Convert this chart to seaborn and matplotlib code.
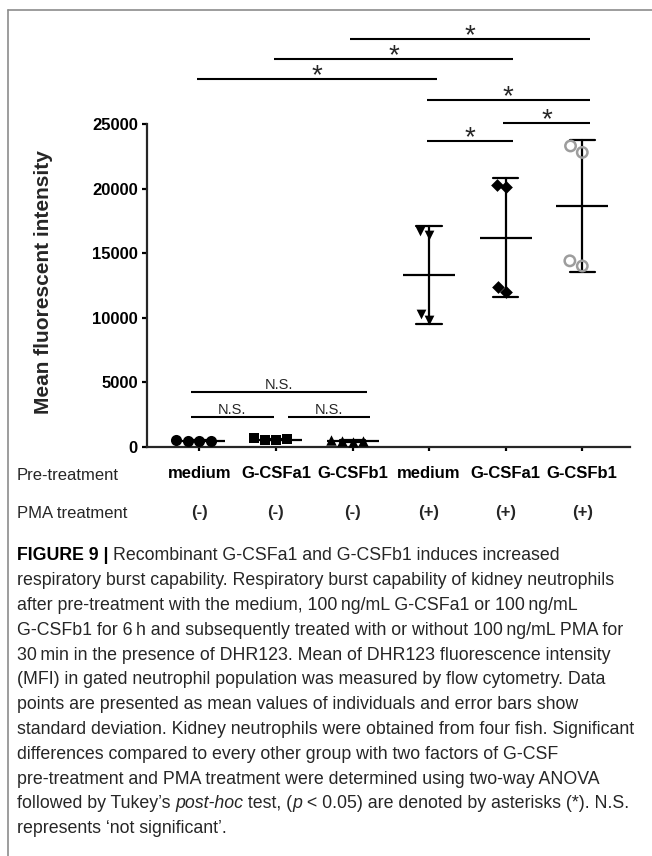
import matplotlib
matplotlib.use("Agg")
import matplotlib.pyplot as plt
from matplotlib import transforms
from matplotlib.lines import Line2D
import numpy as np
import pandas as pd
import seaborn as sns

# ---------------- data ----------------
pre_treatment = ["medium", "G-CSFa1", "G-CSFb1", "medium", "G-CSFa1", "G-CSFb1"]
pma_treatment = ["(-)", "(-)", "(-)", "(+)", "(+)", "(+)"]
group_ids = ["medium (-)", "G-CSFa1 (-)", "G-CSFb1 (-)",
             "medium (+)", "G-CSFa1 (+)", "G-CSFb1 (+)"]

medium_neg = [480, 420, 430, 490]
gcsfa1_neg = [560, 500, 510, 650]
gcsfb1_neg = [430, 400, 410, 520]
medium_pos = [16700, 16400, 9800, 10300]
gcsfa1_pos = [20300, 20100, 12000, 12400]
gcsfb1_pos = [23300, 22800, 14000, 14400]

y_ticks = [0, 5000, 10000, 15000, 20000, 25000]

sig_pairs = [(2, 5), (1, 4), (0, 3), (3, 5), (4, 5), (3, 4)]
sig_heights = [31600, 30000, 28500, 26850, 25050, 23700]
ns_pairs = [(0, 2), (0, 1), (1, 2)]
ns_heights = [4250, 2300, 2300]

caption_lines = [
    [("FIGURE 9 | ", "bold", "normal"), ("Recombinant G-CSFa1 and G-CSFb1 induces increased", "normal", "normal")],
    [("respiratory burst capability. Respiratory burst capability of kidney neutrophils", "normal", "normal")],
    [("after pre-treatment with the medium, 100\u2009ng/mL G-CSFa1 or 100\u2009ng/mL", "normal", "normal")],
    [("G-CSFb1 for 6\u2009h and subsequently treated with or without 100\u2009ng/mL PMA for", "normal", "normal")],
    [("30\u2009min in the presence of DHR123. Mean of DHR123 fluorescence intensity", "normal", "normal")],
    [("(MFI) in gated neutrophil population was measured by flow cytometry. Data", "normal", "normal")],
    [("points are presented as mean values of individuals and error bars show", "normal", "normal")],
    [("standard deviation. Kidney neutrophils were obtained from four fish. Significant", "normal", "normal")],
    [("differences compared to every other group with two factors of G-CSF", "normal", "normal")],
    [("pre-treatment and PMA treatment were determined using two-way ANOVA", "normal", "normal")],
    [("followed by Tukey\u2019s ", "normal", "normal"), ("post-hoc", "normal", "italic"),
     (" test, (", "normal", "normal"), ("p", "normal", "italic"),
     (" < 0.05) are denoted by asterisks (*). N.S.", "normal", "normal")],
    [("represents \u2018not significant\u2019.", "normal", "normal")],
]

# ---------------- style ----------------
sns.set_style("ticks")
plt.rcParams["font.family"] = ["Liberation Sans", "DejaVu Sans"]

W, H = 652, 856
fig = plt.figure(figsize=(W / 100, H / 100), dpi=100)

y0_px, ytop_px = 446.7, 20.0
px_per_unit = (y0_px - 124.0) / 25000.0
ymax = (y0_px - ytop_px) / px_per_unit
ax = fig.add_axes([147 / W, 1 - y0_px / H, (630 - 147) / W, (y0_px - ytop_px) / H])

values = [medium_neg, gcsfa1_neg, gcsfb1_neg, medium_pos, gcsfa1_pos, gcsfb1_pos]
df = pd.DataFrame({
    "group": np.repeat(group_ids, [len(v) for v in values]),
    "value": np.concatenate(values),
})

# mean +/- SD
sns.pointplot(data=df, x="group", y="value", order=group_ids, errorbar="sd",
              capsize=0.33, color="black", marker="_", markersize=37,
              markeredgewidth=1.6, linestyle="none",
              err_kws={"linewidth": 1.6}, ax=ax, zorder=2)

markers = ["o", "s", "^", "v", "D", "o"]
msizes = [8, 7.5, 7.5, 7, 6.5, 7.5]
for gid, mk, ms in zip(group_ids, markers, msizes):
    sub = df[df["group"] == gid]
    sns.swarmplot(data=sub, x="group", y="value", order=group_ids, marker=mk,
                  size=ms, color="black", ax=ax, zorder=3)
    coll = ax.collections[-1]
    coll.set_clip_on(False)
    if gid == "G-CSFb1 (+)":
        coll.set_facecolor("none")
        coll.set_edgecolor("#9d9d9d")
        coll.set_linewidth(1.8)

# axes styling
ax.set_xlim(-0.683, 5.623)
ax.set_ylim(0, ymax)
ax.set_yticks(y_ticks)
ax.set_yticklabels([str(t) for t in y_ticks], fontweight="bold", fontsize=12)
ax.set_xticks(range(len(group_ids)))
ax.set_xticklabels(pre_treatment, fontweight="bold", fontsize=12)
ax.set_xlabel("")
ax.set_ylabel("Mean fluorescent intensity", fontsize=15, fontweight="bold")
ax.yaxis.set_label_coords(-0.195, 0.385)
for s in ["top", "right"]:
    ax.spines[s].set_visible(False)
ax.spines["left"].set_bounds(0, 25000)
for s in ["left", "bottom"]:
    ax.spines[s].set_linewidth(1.6)
ax.tick_params(axis="y", length=3.6, width=1.6, pad=3, colors="black")
ax.tick_params(axis="x", length=3, width=1.6, pad=11, colors="black")
ax.grid(False)

# second row of x labels
bt = transforms.blended_transform_factory(ax.transData, fig.transFigure)
for i, lab in enumerate(pma_treatment):
    ax.text(i, 1 - 513 / H, lab, transform=bt, ha="center", va="center",
            fontweight="bold", fontsize=12)
fig.text(17 / W, 1 - 475 / H, "Pre-treatment", va="center", fontsize=12)
fig.text(17 / W, 1 - 513 / H, "PMA treatment", va="center", fontsize=12)

# significance annotations
star_tr = transforms.offset_copy(ax.transData, fig=fig, x=0, y=-4, units="dots")
for (i, j), h in zip(sig_pairs, sig_heights):
    x0, x1 = i - 0.03, j + 0.1
    ax.plot([x0, x1], [h, h], color="black", lw=1.5, clip_on=False,
            solid_capstyle="butt")
    ax.text((x0 + x1) / 2, h, "*", transform=star_tr, ha="center",
            va="baseline", fontsize=20)

ns_tr = transforms.offset_copy(ax.transData, fig=fig, x=0, y=3, units="dots")
ns_ext = [(-0.11, 0.19), (-0.11, -0.03), (0.16, 0.23)]
for (i, j), h, (a, b) in zip(ns_pairs, ns_heights, ns_ext):
    x0, x1 = i + a, j + b
    ax.plot([x0, x1], [h, h], color="black", lw=1.5, clip_on=False,
            solid_capstyle="butt")
    ax.text((x0 + x1) / 2, h, "N.S.", transform=ns_tr, ha="center",
            va="baseline", fontsize=10.5)

# frame lines
frame_c = "#8c8c8c"
fig.add_artist(Line2D([7.5 / W, 1], [1 - 9.5 / H] * 2, transform=fig.transFigure,
                      color=frame_c, lw=1.2))
fig.add_artist(Line2D([7.5 / W] * 2, [0, 1 - 9.5 / H], transform=fig.transFigure,
                      color=frame_c, lw=1.2))

# caption
renderer = fig.canvas.get_renderer()
cap_size = 12.8


def text_width(s, weight, style):
    t1 = fig.text(0, 0, s + "|", fontsize=cap_size, fontweight=weight, fontstyle=style)
    t2 = fig.text(0, 0, "|", fontsize=cap_size, fontweight=weight, fontstyle=style)
    w = t1.get_window_extent(renderer).width - t2.get_window_extent(renderer).width
    t1.remove()
    t2.remove()
    return w


for k, runs in enumerate(caption_lines):
    y = 1 - (556 + 24.8 * k) / H
    x = 17.0
    for s, weight, style in runs:
        col = "black" if weight == "bold" else "#262626"
        fig.text(x / W, y, s, fontsize=cap_size, fontweight=weight,
                 fontstyle=style, va="center", color=col)
        x += text_width(s, weight, style)

fig.savefig("out.png", dpi=100)
